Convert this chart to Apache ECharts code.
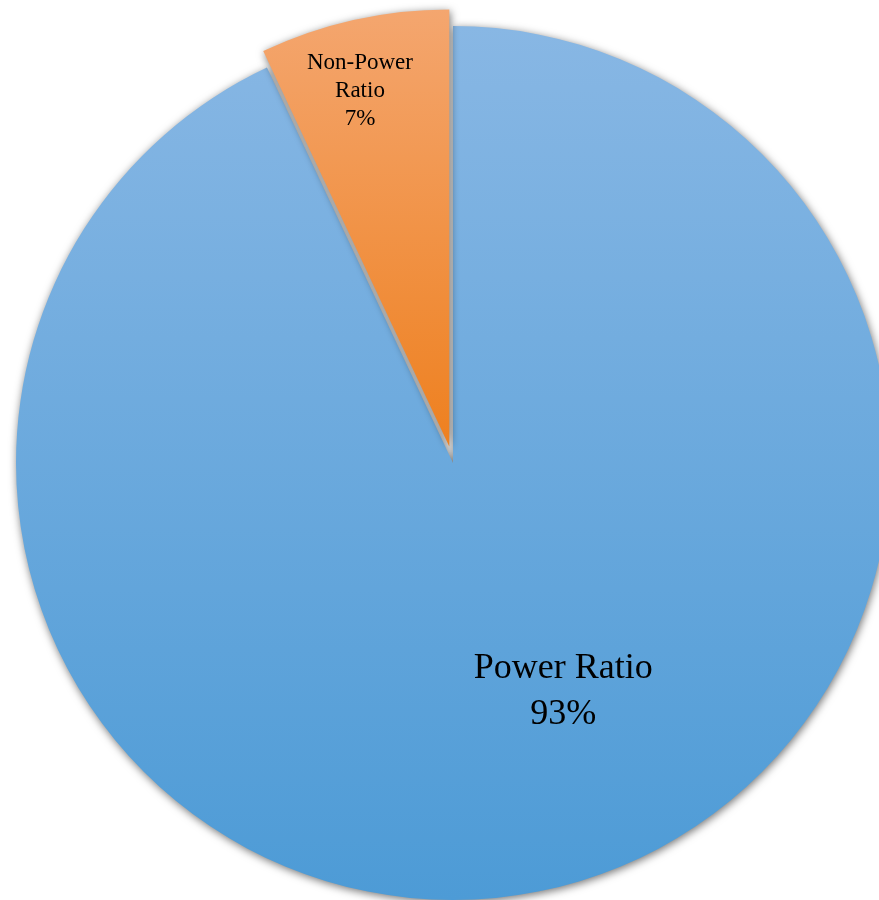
<!DOCTYPE html>
<html>
<head>
<meta charset="utf-8">
<script src="https://cdn.jsdelivr.net/npm/echarts@6/dist/echarts.min.js"></script>
<style>
html,body{margin:0;padding:0;background:#fff;}
#chart{width:879px;height:900px;}
</style>
</head>
<body>
<div id="chart"></div>
<script>
const categories = ['Power Ratio', 'Non-Power Ratio'];
const values = [93, 7];

const chart = echarts.init(document.getElementById('chart'), null, {renderer: 'canvas'});

const styles = [
  {
    color: new echarts.graphic.LinearGradient(0, 0, 0, 1, [
      {offset: 0, color: '#88b7e4'},
      {offset: 1, color: '#4d9bd6'}
    ]),
    font: 36, lh: 46, dx: 62, dy: 12
  },
  {
    color: new echarts.graphic.LinearGradient(0, 0, 0, 1, [
      {offset: 0, color: '#f4a66f'},
      {offset: 1, color: '#ee801f'}
    ]),
    font: 23, lh: 28, dx: -41, dy: -139
  }
];

const data = categories.map((name, i) => ({
  name: name,
  value: values[i],
  selected: i === 1,
  itemStyle: {color: styles[i].color},
  label: {
    fontSize: styles[i].font,
    lineHeight: styles[i].lh,
    formatter: i === 1
      ? (p) => p.name.replace(' ', '\n') + '\n' + p.value + '%'
      : (p) => p.name + '\n' + p.value + '%'
  }
}));

chart.setOption({
  animation: false,
  backgroundColor: '#ffffff',
  series: [{
    type: 'pie',
    center: [453, 463],
    radius: 437,
    startAngle: 90,
    clockwise: true,
    selectedMode: 'single',
    selectedOffset: 17,
    avoidLabelOverlap: false,
    itemStyle: {
      shadowColor: 'rgba(0,0,0,0.55)',
      shadowBlur: 8,
      shadowOffsetX: 1,
      shadowOffsetY: 2,
      borderWidth: 0
    },
    label: {
      show: true,
      position: 'inside',
      fontFamily: '"Liberation Serif", "Times New Roman", serif',
      color: '#000',
      align: 'center'
    },
    labelLine: {show: false},
    labelLayout: function (params) {
      const s = styles[params.dataIndex];
      return {dx: s.dx, dy: s.dy};
    },
    emphasis: {disabled: true},
    data: data
  }]
});
</script>
</body>
</html>
